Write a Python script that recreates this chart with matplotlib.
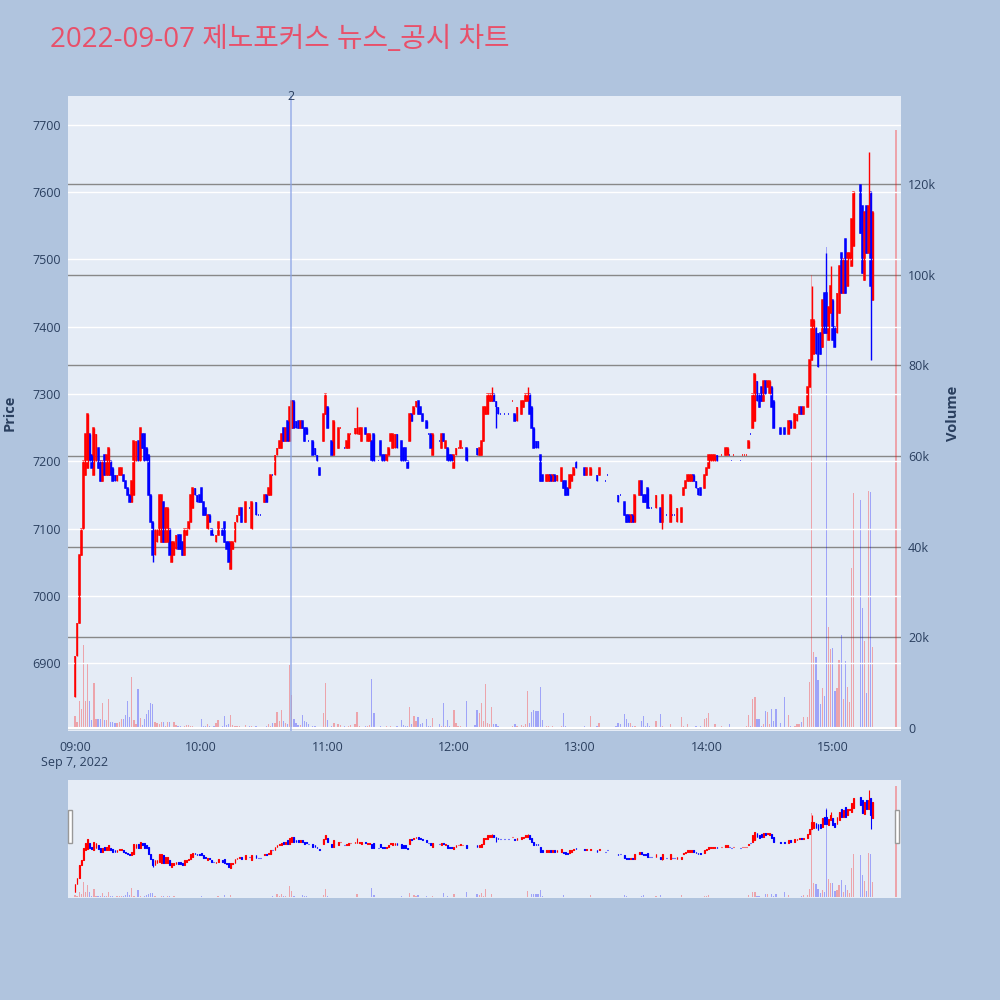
import numpy as np
import matplotlib
matplotlib.use('Agg')
import matplotlib.pyplot as plt
from matplotlib.patches import Rectangle
import matplotlib.transforms as mtransforms

plt.rcParams['font.family'] = ['Open Sans', 'Noto Sans CJK KR', 'DejaVu Sans']

#%%
# chart text / axes
title = '2022-09-07 제노포커스 뉴스_공시 차트'
tick_minutes = [0, 60, 120, 180, 240, 300, 360]
tick_labels = ['09:00\nSep 7, 2022', '10:00', '11:00', '12:00', '13:00', '14:00', '15:00']
price_ticks = [6900, 7000, 7100, 7200, 7300, 7400, 7500, 7600, 7700]
vol_ticks = [0, 20, 40, 60, 80, 100, 120]          # thousands
vol_tick_labels = ['0', '20k', '40k', '60k', '80k', '100k', '120k']
news_minute = 102.6                                 # 10:42~10:43
news_label = '2'

# 1-minute candles, minute 0 = 09:00 (None = no trade)
opens = [
    6850, 6910, 6960, 7060, 7100, 7180, 7190, 7240, 7210, 7180,
    7200, 7220, 7200, 7170, 7210, 7180, 7180, 7200, 7190, 7180,
    7170, 7180, 7180, 7180, 7170, 7160, 7150, 7140, 7150, 7200,
    7230, 7200, 7240, 7240, 7220, 7210, 7150, 7110, 7060, 7080,
    7090, 7080, 7140, 7080, 7080, 7100, 7050, 7060, 7070, 7090,
    7090, 7080, 7060, 7090, 7100, 7110, 7130, 7160, 7150, 7150,
    7160, 7140, 7130, 7100, 7120, 7100, 7090, 7080, 7090, None,
    7100, 7110, 7080, 7080, 7040, 7070, 7080, 7110, 7120, 7130,
    None, 7110, None, 7130, 7100, None, 7140, 7120, 7120, None,
    7140, 7150, 7150, 7150, 7180, 7180, 7210, 7220, 7220, 7250,
    7230, 7260, 7230, 7250, 7290, 7260, 7260, 7250, 7260, 7250,
    7250, 7230, None, 7230, 7220, 7210, 7190, None, 7230, 7270,
    7280, None, 7230, 7210, None, 7220, 7250, None, 7220, 7220,
    7220, 7240, None, 7240, 7240, 7240, 7230, None, 7250, 7230,
    7230, 7230, 7240, None, 7200, 7230, 7210, 7210, 7200, 7210,
    7230, 7220, 7220, 7240, None, 7230, 7220, 7220, 7200, 7230,
    7270, 7270, 7280, 7290, 7280, 7270, None, 7260, 7240, 7240,
    7210, None, None, 7230, 7220, 7240, 7220, 7220, 7210, 7210,
    7190, 7210, 7220, 7220, 7220, None, 7220, None, None, None,
    7210, 7220, 7210, 7210, 7230, 7270, 7270, 7290, 7290, 7300,
    7290, 7280, 7270, None, 7270, None, 7270, None, 7290, 7270,
    7260, None, 7270, 7280, 7290, 7290, 7300, 7280, 7250, 7230,
    7230, 7210, 7180, None, 7170, 7170, 7180, 7170, 7180, 7170,
    None, 7170, 7170, 7170, 7160, 7160, 7170, 7180, 7200, 7190,
    None, None, 7190, 7180, None, 7180, None, None, 7180, 7180,
    None, None, 7170, 7180, None, None, None, 7160, 7150, 7150,
    None, 7140, 7120, 7120, 7110, 7120, 7110, 7140, 7150, 7170,
    7150, 7150, 7160, 7130, 7130, None, 7130, None, 7130, 7110,
    None, 7120, None, 7110, 7120, 7120, 7110, None, 7110, 7150,
    7160, 7170, 7170, 7170, 7180, 7170, 7160, 7160, None, 7160,
    7180, 7190, 7200, 7200, 7200, 7210, None, 7210, None, 7210,
    7210, 7210, 7200, 7210, 7210, None, 7200, 7210, 7210, 7210,
    7220, 7240, 7250, 7260, 7320, 7300, 7310, 7290, 7320, 7310,
    7300, 7310, 7290, 7250, None, 7250, None, 7250, None, 7240,
    7260, None, 7250, 7260, 7270, 7280, 7270, None, 7280, 7310,
    7350, 7360, 7400, 7390, 7390, 7370, 7450, 7450, 7380, 7420,
    7440, 7400, 7390, 7420, 7510, 7450, 7530, 7460, 7500, 7490,
    7520, None, None, 7610, 7580, 7470, 7580, 7510, 7600, 7440,
]
closes = [
    6910, 6960, 7060, 7100, 7200, 7240, 7270, 7200, 7190, 7250,
    7240, 7190, 7170, 7200, 7180, 7210, 7220, 7180, 7170, 7170,
    7180, 7190, 7190, 7170, 7160, 7150, 7140, 7170, 7230, 7230,
    7200, 7250, 7220, 7200, 7200, 7150, 7110, 7060, 7100, 7100,
    7150, 7150, 7080, 7130, 7130, 7060, 7080, 7080, 7090, 7070,
    7070, 7060, 7100, 7100, 7110, 7150, 7160, 7150, 7140, 7140,
    7140, 7120, 7120, 7120, 7110, 7090, 7090, 7090, 7110, None,
    7090, 7080, 7070, 7050, 7080, 7080, 7110, 7120, 7130, 7110,
    None, 7140, None, 7130, 7140, None, 7120, 7120, 7120, None,
    7150, 7140, 7160, 7180, 7180, 7210, 7220, 7230, 7240, 7230,
    7250, 7230, 7280, 7290, 7250, 7250, 7250, 7260, 7250, 7230,
    7240, 7230, None, 7210, 7210, 7200, 7180, None, 7270, 7300,
    7250, None, 7210, 7260, None, 7250, 7250, None, 7220, 7230,
    7240, 7240, None, 7250, 7250, 7250, 7250, None, 7240, 7240,
    7240, 7200, 7200, None, 7200, 7210, 7200, 7200, 7210, 7220,
    7240, 7240, 7240, 7220, None, 7200, 7200, 7200, 7190, 7270,
    7260, 7280, 7290, 7270, 7270, 7260, None, 7250, 7240, 7220,
    7240, None, None, 7230, 7240, 7230, 7230, 7200, 7200, 7200,
    7210, 7220, 7220, 7230, 7220, None, 7200, None, None, None,
    7210, 7210, 7220, 7230, 7280, 7280, 7300, 7300, 7300, 7290,
    7280, 7270, 7270, None, 7270, None, 7270, None, 7290, 7260,
    7280, None, 7290, 7290, 7300, 7300, 7270, 7250, 7220, 7220,
    7220, 7170, 7170, None, 7180, 7180, 7170, 7180, 7170, 7180,
    None, 7190, 7160, 7150, 7150, 7180, 7180, 7190, 7190, 7190,
    None, None, 7180, 7190, None, 7190, None, None, 7170, 7190,
    None, None, 7170, 7180, None, None, None, 7160, 7140, 7150,
    None, 7120, 7110, 7110, 7120, 7110, 7150, 7140, 7170, 7150,
    7140, 7140, 7130, 7130, 7130, None, 7150, None, 7110, 7150,
    None, 7120, None, 7150, 7120, 7120, 7130, None, 7130, 7160,
    7170, 7180, 7180, 7180, 7170, 7160, 7150, 7150, None, 7180,
    7190, 7210, 7210, 7210, 7210, 7200, None, 7210, None, 7220,
    7220, 7210, 7200, 7210, 7210, None, 7200, 7210, 7210, 7210,
    7230, 7240, 7300, 7330, 7290, 7280, 7290, 7320, 7300, 7320,
    7320, 7280, 7250, 7250, None, 7240, None, 7240, None, 7260,
    7250, None, 7270, 7270, 7280, 7270, 7280, None, 7310, 7350,
    7410, 7410, 7360, 7340, 7360, 7440, 7390, 7390, 7430, 7460,
    7380, 7370, 7450, 7490, 7450, 7500, 7450, 7510, 7510, 7560,
    7600, None, None, 7540, 7480, 7570, 7510, 7580, 7460, 7570,
]
wick_high = {134: 7280, 198: 7310, 215: 7310, 350: 7460, 357: 7510,
             359: 7490, 366: 7530, 377: 7660}
wick_low = {37: 7050, 74: 7040, 200: 7250, 279: 7100, 378: 7350}
flat_up = [126, 131, 182, 184, 208, 307, 313, 317, 318, 319]

# volume per minute, thousands of shares
volumes = [
    2.7, 1.4, 5.9, 4.1, 18.4, 5.9, 14.4, 5.9, 1.8, 9.9,
    2.0, 2.0, 2.0, 5.5, 1.8, 1.8, 6.4, 1.4, 1.3, 1.0,
    1.2, 1.4, 2.0, 2.0, 2.9, 5.9, 2.4, 11.3, 1.8, 0.9,
    8.6, 2.1, 0.7, 1.9, 3.1, 4.0, 5.5, 5.3, 1.4, 1.0,
    0.9, 1.4, 1.4, 0.5, 1.4, 1.4, 0.3, 1.4, 0.7, 0.4,
    0.4, 0.3, 0.4, 0.7, 0.7, 0.5, 0.5, 0.3, 0.3, 0.3,
    1.9, 0.5, 0.4, 0.8, 0.5, 0.3, 0.4, 1.0, 1.7, 0,
    0.5, 2.6, 0.6, 0.8, 2.8, 0.6, 0.5, 0.4, 0.4, 0.3,
    0, 0.7, 0, 0.5, 0.4, 0, 0.5, 0.3, 0.2, 0,
    0.3, 0.5, 0.8, 0.5, 1.2, 1.0, 3.5, 1.5, 4.0, 1.5,
    1.2, 0.8, 13.9, 7.3, 2.0, 1.0, 0.7, 0.7, 2.8, 1.5,
    1.3, 0.8, 0, 0.5, 0.5, 0.3, 0.3, 0, 3.3, 10.0,
    1.7, 0, 0.5, 1.0, 0, 0.8, 0.6, 0, 0.4, 0.3,
    0.4, 0.7, 0, 0.9, 3.6, 0.5, 0.3, 0, 0.4, 0.4,
    0.7, 10.7, 3.2, 0, 0.2, 0.5, 0.3, 0.3, 0.4, 0.3,
    0.4, 0.3, 0.3, 0.5, 0, 1.7, 0.6, 0.4, 0.5, 4.7,
    0.8, 2.7, 1.5, 2.4, 0.8, 1.1, 0, 2.0, 0.5, 0.4,
    2.2, 0, 0, 0.8, 0.4, 5.6, 0.5, 1.7, 0.5, 0.3,
    4.0, 1.0, 0.5, 0.4, 0.3, 0, 5.9, 0, 0, 0,
    0.7, 4.0, 3.3, 5.5, 1.5, 9.7, 1.0, 0.8, 4.6, 0.8,
    0.8, 0.4, 0.3, 0, 0.3, 0, 0.3, 0, 0.4, 0.8,
    0.5, 0, 0.6, 0.5, 0.8, 8.2, 1.0, 3.6, 4.0, 3.8,
    3.8, 9.0, 1.7, 0, 0.5, 0.4, 0.3, 0.4, 0.3, 0.3,
    0, 0.4, 3.3, 0.5, 0.3, 0.3, 0.3, 0.3, 0.2, 0.3,
    0, 0, 0.5, 0.3, 0, 2.7, 0, 0, 0.5, 1.0,
    0, 0, 0.3, 0.3, 0, 0, 0, 0.5, 1.0, 0.8,
    0, 3.1, 2.0, 1.0, 1.0, 0.5, 0.5, 0.3, 0.3, 1.5,
    2.7, 0.5, 1.0, 0.5, 0.3, 0, 1.5, 0, 3.1, 0.4,
    0, 0.3, 0, 0.8, 0.3, 0.3, 0.3, 0, 2.5, 0.5,
    0.3, 0.8, 0.3, 0.3, 0.3, 0.4, 0.3, 0.5, 0, 1.9,
    2.3, 3.2, 0.3, 0.3, 0.8, 0.3, 0, 0.5, 0, 0.3,
    0.3, 0.8, 0.3, 0.3, 0.3, 0, 0.3, 0.3, 0.3, 0.5,
    2.8, 0.5, 6.5, 6.8, 2.0, 2.0, 0.5, 0.8, 3.8, 3.5,
    0.8, 4.3, 1.5, 4.3, 0, 1.0, 0, 6.9, 0, 2.9,
    0.5, 0, 0.5, 0.8, 0.8, 1.3, 2.4, 0, 2.4, 10.1,
    100, 16.8, 15.7, 10.6, 5.3, 8.8, 7.0, 106, 22.3, 17.4,
    17.6, 8.2, 8.8, 15.0, 20.5, 6.5, 14.8, 9.1, 5.8, 35.4,
    51.8, 0, 0, 50.3, 26.5, 19.3, 7.8, 52.3, 52.0, 17.9,
]
# closing auction 15:30
auction_minute = 390
auction_price = 7600
auction_volume = 132

#%%
RED = '#FF0000'
BLUE = '#0000FF'
TXT = '#2a3f5f'

xs, o_, c_, hi_, lo_, cols, vs = [], [], [], [], [], [], []
for m, (o, c) in enumerate(zip(opens, closes)):
    if o is None or c is None:
        continue
    up = c > o or (c == o and m in flat_up)
    xs.append(m); o_.append(o); c_.append(c)
    hi_.append(max(o, c, wick_high.get(m, o)))
    lo_.append(min(o, c, wick_low.get(m, o)))
    cols.append(RED if up else BLUE)
    vs.append(volumes[m] if m < len(volumes) else 0)
xs.append(auction_minute); o_.append(auction_price); c_.append(auction_price)
hi_.append(auction_price); lo_.append(auction_price); cols.append(RED); vs.append(auction_volume)
xs = np.array(xs); o_ = np.array(o_); c_ = np.array(c_)
hi_ = np.array(hi_); lo_ = np.array(lo_); vs = np.array(vs)

xlim = (-3.3, 392.4)
ylim = (6799, 7743)
vlim = (-0.66, 139.4)


def draw(ax, axv, body_lw, wick_lw):
    axv.bar(xs, vs, width=0.6, color=cols, alpha=0.3, linewidth=0)
    ax.vlines(xs, lo_, hi_, colors=cols, linewidth=wick_lw)
    ax.bar(xs, np.abs(c_ - o_), bottom=np.minimum(o_, c_), width=0.4,
           color=cols, edgecolor=cols, linewidth=body_lw)


fig = plt.figure(figsize=(10, 10), dpi=100)
fig.patch.set_facecolor('#B0C4DE')

# main chart
axv = fig.add_axes([0.068, 0.269, 0.833, 0.635])
ax = axv.twinx()
axv.set_facecolor('#E5ECF6')
ax.set_zorder(axv.get_zorder() + 1)
ax.patch.set_visible(False)

axv.set_ylim(*vlim)
axv.set_yticks(vol_ticks)
axv.set_yticklabels(vol_tick_labels)
axv.yaxis.tick_right()
axv.grid(axis='y', color='#888888', linewidth=1.0)
axv.axhline(0, color='white', linewidth=1.5)
axv.set_axisbelow(True)

ax.set_ylim(*ylim)
ax.set_yticks(price_ticks)
ax.yaxis.tick_left()
ax.grid(axis='y', color='white', linewidth=1.0)

for a in (ax, axv):
    a.set_xlim(*xlim)
    for s in a.spines.values():
        s.set_visible(False)
    a.tick_params(length=0, labelsize=9, labelcolor=TXT, pad=5)

axv.set_xticks(tick_minutes)
axv.set_xticklabels(tick_labels)
axv.tick_params(axis='x', pad=7)

draw(ax, axv, body_lw=1.1, wick_lw=1.0)

# news line
ax.axvline(news_minute, color='#8aa3e6', alpha=0.7, linewidth=1.3)
trans = mtransforms.blended_transform_factory(ax.transData, ax.transAxes)
ax.text(news_minute, 1.0, news_label, transform=trans, ha='center', va='center',
        fontsize=9, color=TXT)

# range slider
sv = fig.add_axes([0.068, 0.102, 0.833, 0.118])
sp = sv.twinx()
sv.set_facecolor('#E5ECF6')
sp.set_zorder(sv.get_zorder() + 1)
sp.patch.set_visible(False)
sv.set_ylim(*vlim)
sp.set_ylim(*ylim)
for a in (sv, sp):
    a.set_xlim(*xlim)
    a.set_xticks([]); a.set_yticks([])
    for s in a.spines.values():
        s.set_visible(False)
draw(sp, sv, body_lw=0.8, wick_lw=0.8)

for hx in (0.068, 0.895):
    fig.patches.append(Rectangle((hx, 0.157), 0.004, 0.033, transform=fig.transFigure,
                                 facecolor='white', edgecolor='#999999', linewidth=1.0))

# titles
fig.text(0.05, 0.96, title, fontsize=20, color='#E8506A', va='center', ha='left')
fig.text(0.01, 0.587, 'Price', rotation=90, va='center', ha='center',
         fontsize=10.5, fontweight='bold', color=TXT)
fig.text(0.953, 0.587, 'Volume', rotation=90, va='center', ha='center',
         fontsize=10.5, fontweight='bold', color=TXT)

fig.savefig('out.png', dpi=100, facecolor=fig.get_facecolor())
